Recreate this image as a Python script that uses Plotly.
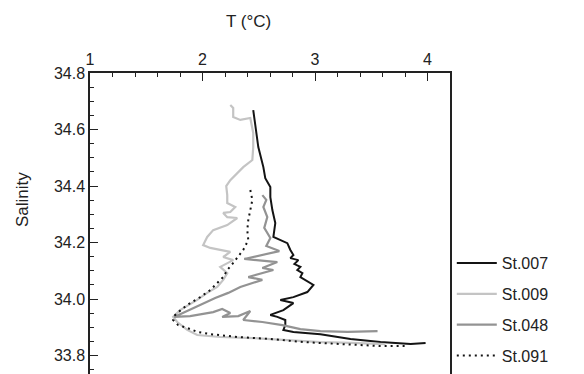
import plotly.graph_objects as go

# Station 007 (black solid)
t_007 = [2.451, 2.469, 2.496, 2.541, 2.558, 2.603, 2.603, 2.621, 2.647, 2.630, 2.692, 2.754,
         2.781, 2.808, 2.781, 2.852, 2.817, 2.870, 2.843, 2.888, 2.870, 2.915, 2.986, 2.932,
         2.808, 2.692, 2.808, 2.719, 2.603, 2.665, 2.736, 2.736, 2.719, 2.808, 3.048, 3.315,
         3.582, 3.850, 3.983]
s_007 = [34.669, 34.623, 34.538, 34.467, 34.428, 34.397, 34.361, 34.315, 34.269, 34.220, 34.209, 34.198,
         34.174, 34.156, 34.145, 34.138, 34.124, 34.114, 34.103, 34.092, 34.078, 34.068, 34.050, 34.025,
         34.007, 33.997, 33.986, 33.961, 33.944, 33.937, 33.926, 33.908, 33.891, 33.884, 33.876, 33.859,
         33.848, 33.841, 33.845]

# Station 009 (light grey solid)
t_009 = [2.247, 2.273, 2.273, 2.336, 2.425, 2.443, 2.451, 2.451, 2.443, 2.362, 2.309, 2.247,
         2.211, 2.220, 2.220, 2.291, 2.247, 2.184, 2.220, 2.309, 2.220, 2.095, 2.042, 2.006,
         2.069, 2.247, 2.184, 2.273, 2.158, 2.220, 2.184, 2.131, 2.042, 1.953, 1.801, 1.739,
         1.775, 1.864, 1.953, 2.158, 2.451, 2.754, 3.048, 3.315, 3.627]
s_009 = [34.687, 34.676, 34.644, 34.634, 34.641, 34.609, 34.588, 34.538, 34.492, 34.467, 34.446, 34.421,
         34.400, 34.368, 34.340, 34.326, 34.308, 34.305, 34.290, 34.287, 34.262, 34.244, 34.220, 34.191,
         34.181, 34.167, 34.149, 34.138, 34.114, 34.092, 34.068, 34.043, 34.022, 33.997, 33.961, 33.937,
         33.919, 33.891, 33.873, 33.866, 33.862, 33.855, 33.848, 33.845, 33.841]

# Station 048 (mid grey solid)
t_048 = [2.532, 2.567, 2.541, 2.576, 2.549, 2.603, 2.567, 2.683, 2.371, 2.665, 2.532, 2.630,
         2.407, 2.532, 2.336, 2.229, 2.113, 1.980, 1.855, 1.748, 1.890, 2.095, 2.175, 2.247,
         2.175, 2.318, 2.425, 2.362, 2.532, 2.710, 2.870, 3.048, 3.289, 3.556]
s_048 = [34.368, 34.351, 34.326, 34.290, 34.252, 34.216, 34.188, 34.170, 34.142, 34.131, 34.110, 34.103,
         34.078, 34.068, 34.043, 34.022, 34.004, 33.979, 33.958, 33.937, 33.940, 33.954, 33.965, 33.951,
         33.937, 33.940, 33.958, 33.926, 33.919, 33.908, 33.894, 33.887, 33.884, 33.887]

# Station 091 (black dotted)
t_091 = [2.425, 2.443, 2.425, 2.407, 2.398, 2.407, 2.362, 2.309, 2.273, 2.220, 2.184, 2.131,
         2.069, 1.980, 1.890, 1.828, 1.757, 1.739, 1.784, 1.864, 1.953, 2.069, 2.309, 2.603,
         2.897, 3.226, 3.582, 3.805]
s_091 = [34.386, 34.351, 34.315, 34.280, 34.244, 34.209, 34.174, 34.149, 34.128, 34.103, 34.078, 34.057,
         34.032, 34.007, 33.986, 33.968, 33.944, 33.926, 33.908, 33.898, 33.884, 33.876, 33.866, 33.859,
         33.848, 33.841, 33.834, 33.834]

x_ticks = [1, 2, 3, 4]
y_ticks = [33.8, 34.0, 34.2, 34.4, 34.6, 34.8]

FONT = "Liberation Sans, Arial, Helvetica, sans-serif"

fig = go.Figure()
series = [
    ("St.007", t_007, s_007, "#141414", "solid", 2),
    ("St.009", t_009, s_009, "#c4c4c4", "solid", 2.2),
    ("St.048", t_048, s_048, "#939393", "solid", 2.2),
    ("St.091", t_091, s_091, "#141414", "2px,4px", 2),
]
for name, t, s, col, dash, w in series:
    fig.add_trace(go.Scatter(
        x=t, y=s, mode="lines", name=name, legendgroup=name,
        line=dict(color=col, width=w, dash=dash),
    ))

fig.update_layout(
    width=584, height=374,
    margin=dict(l=90, r=134, t=73, b=0),
    paper_bgcolor="white", plot_bgcolor="white",
    font=dict(family=FONT, size=16, color="#222"),
    showlegend=True,
    legend=dict(x=1.005, xanchor="left", y=0.003, yanchor="bottom",
                font=dict(size=16, color="#222"), tracegroupgap=7, itemwidth=40,
                bgcolor="rgba(0,0,0,0)", borderwidth=0),
    xaxis=dict(side="top", range=[1, 4.2], tickvals=x_ticks, ticktext=[str(v) for v in x_ticks],
               ticks="inside", ticklen=8, tickwidth=1, tickcolor="#222",
               minor=dict(dtick=0.2, tick0=1, ticks="inside", ticklen=4, tickwidth=1, tickcolor="#222"),
               showline=True, linecolor="#222", linewidth=1.5, mirror=False,
               showgrid=False, zeroline=False, tickfont=dict(size=16)),
    yaxis=dict(range=[33.735, 34.8], tickvals=y_ticks, ticktext=[f"{v:.1f}" for v in y_ticks],
               ticks="inside", ticklen=8, tickwidth=1, tickcolor="#222",
               minor=dict(dtick=0.05, tick0=33.8, ticks="inside", ticklen=4, tickwidth=1, tickcolor="#222"),
               showline=True, linecolor="#222", linewidth=1.5, mirror=True,
               showgrid=False, zeroline=False, tickfont=dict(size=16)),
    annotations=[
        dict(text="T (°C)", xref="paper", yref="paper", x=(248 - 90) / 360, y=(374 - 22) / 301,
             xanchor="center", yanchor="middle", showarrow=False, font=dict(size=17, color="#222")),
        dict(text="Salinity", xref="paper", yref="paper", x=(22 - 90) / 360, y=(374 - 200) / 301,
             xanchor="center", yanchor="middle", textangle=-90, showarrow=False,
             font=dict(size=17, color="#222")),
    ],
)

fig.write_html("out.html")
